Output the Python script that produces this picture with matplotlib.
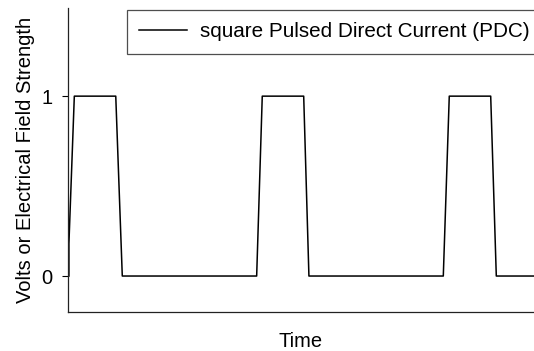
import matplotlib
matplotlib.use("Agg")
import matplotlib.pyplot as plt

plt.rcParams['font.family'] = ['Liberation Sans', 'DejaVu Sans']

# square PDC waveform (time in arbitrary units)
time = [0.05, 0.05, 0.34, 2.56, 2.91, 10.11, 10.41, 12.63, 12.91,
        20.11, 20.43, 22.65, 22.95, 25.0]
volts = [0.0, 0.18, 1.0, 1.0, 0.0, 0.0, 1.0, 1.0, 0.0,
         0.0, 1.0, 1.0, 0.0, 0.0]
ytick_vals = [0, 1]
ytick_labels = ['0', '1']

fig = plt.figure(figsize=(5.34, 3.51), dpi=100)
ax = fig.add_axes([0.1273, 0.1111, 0.8727, 0.8661])

ax.plot(time, volts, color='black', linewidth=1.1,
        label='square Pulsed Direct Current (PDC)')

ax.set_xlim(0, 24.97)
ax.set_ylim(-0.2, 1.49)

ax.set_xticks([])
ax.set_yticks(ytick_vals)
ax.set_yticklabels(ytick_labels, fontsize=14.5)
ax.tick_params(axis='y', length=4, width=0.8, pad=7)

for side in ['top', 'right']:
    ax.spines[side].set_visible(False)
for side in ['left', 'bottom']:
    ax.spines[side].set_linewidth(0.9)
    ax.spines[side].set_color('#222222')

ax.set_xlabel('Time', fontsize=14.5, labelpad=14.5)
ax.set_ylabel('Volts or Electrical Field Strength', fontsize=14.5)
ax.yaxis.set_label_coords(-0.071, 0.5)

# legend box runs off the right edge of the picture, as in the original
leg = ax.legend(loc='upper left',
                bbox_to_anchor=(127 / 534, 1 - 59 / 351, 420 / 534, 49 / 351),
                bbox_transform=fig.transFigure, mode='expand', fontsize=14.9,
                frameon=True, fancybox=False, edgecolor='#222222',
                borderpad=0.6, handlelength=2.3, handletextpad=0.65,
                borderaxespad=0)
leg.get_frame().set_linewidth(0.9)

fig.savefig('out.png', dpi=100)
